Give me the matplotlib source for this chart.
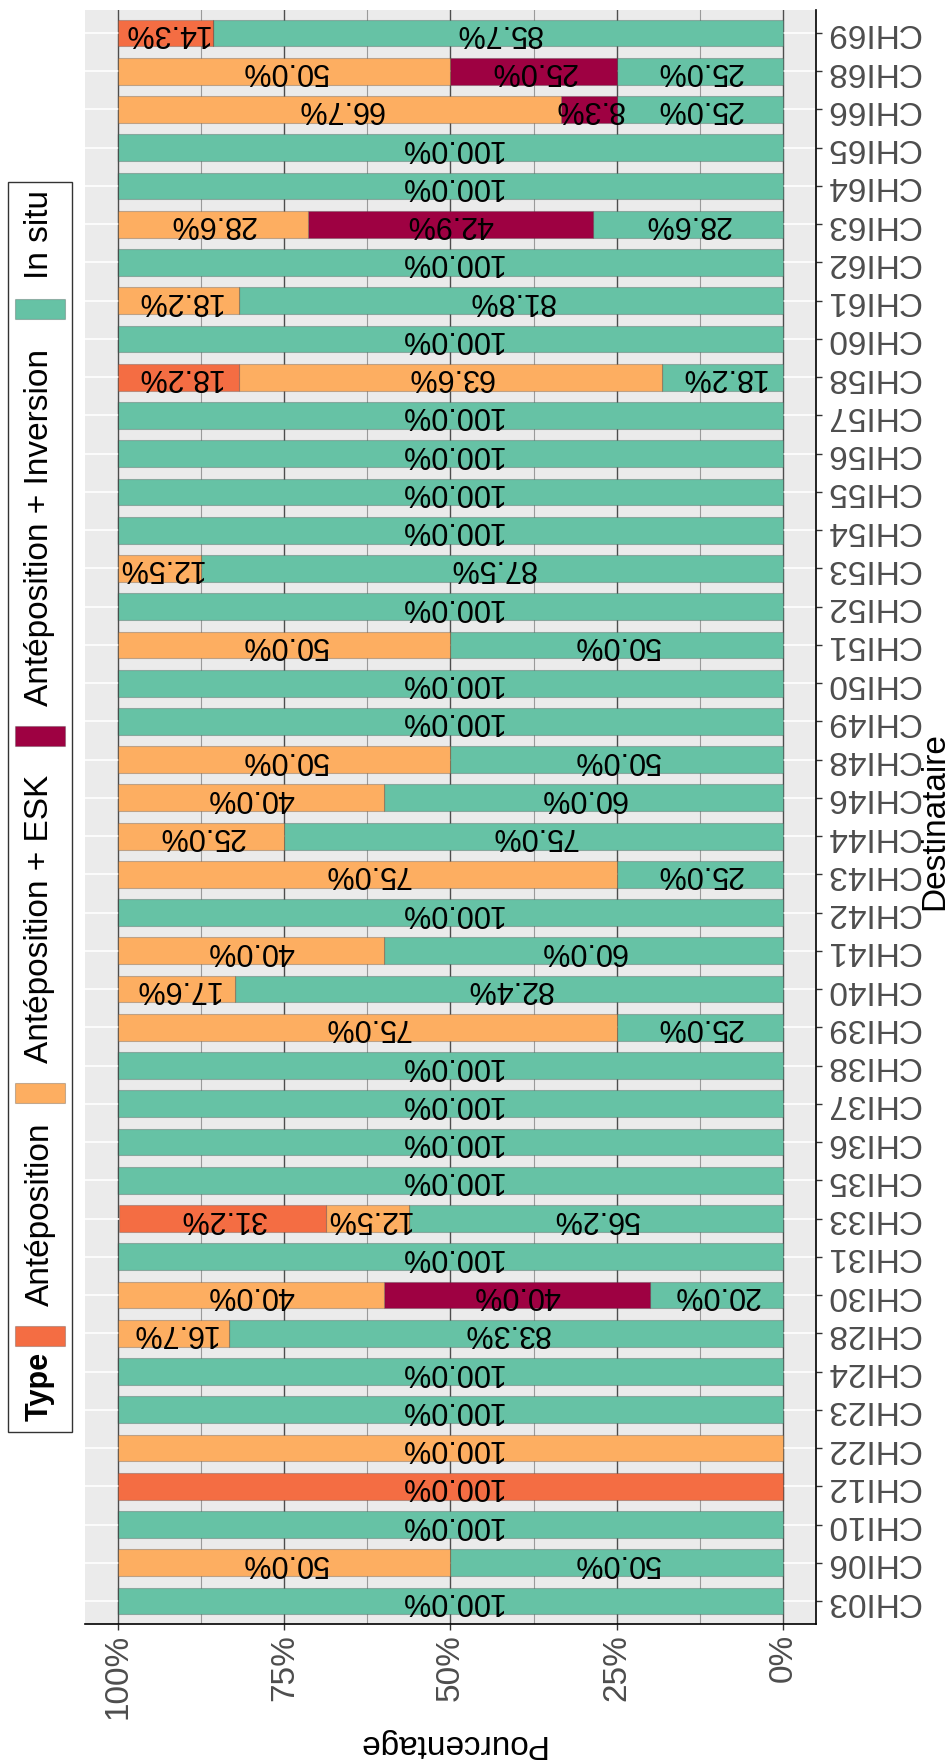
import matplotlib
matplotlib.use("Agg")
import matplotlib.pyplot as plt
from matplotlib.patches import Rectangle
from matplotlib.ticker import FixedLocator

plt.rcParams['font.family'] = ['Liberation Sans', 'DejaVu Sans']

# ---------------- data ----------------
categories = ["CHI03", "CHI06", "CHI10", "CHI12", "CHI22", "CHI23", "CHI24", "CHI28",
              "CHI30", "CHI31", "CHI33", "CHI35", "CHI36", "CHI37", "CHI38", "CHI39",
              "CHI40", "CHI41", "CHI42", "CHI43", "CHI44", "CHI46", "CHI48", "CHI49",
              "CHI50", "CHI51", "CHI52", "CHI53", "CHI54", "CHI55", "CHI56", "CHI57",
              "CHI58", "CHI60", "CHI61", "CHI62", "CHI63", "CHI64", "CHI65", "CHI66",
              "CHI68", "CHI69"]

in_situ = [100.0, 50.0, 100.0, 0.0, 0.0, 100.0, 100.0, 83.3,
           20.0, 100.0, 56.2, 100.0, 100.0, 100.0, 100.0, 25.0,
           82.4, 60.0, 100.0, 25.0, 75.0, 60.0, 50.0, 100.0,
           100.0, 50.0, 100.0, 87.5, 100.0, 100.0, 100.0, 100.0,
           18.2, 100.0, 81.8, 100.0, 28.6, 100.0, 100.0, 25.0,
           25.0, 85.7]
ant_inversion = [0, 0, 0, 0, 0, 0, 0, 0,
                 40.0, 0, 0, 0, 0, 0, 0, 0,
                 0, 0, 0, 0, 0, 0, 0, 0,
                 0, 0, 0, 0, 0, 0, 0, 0,
                 0, 0, 0, 0, 42.9, 0, 0, 8.3,
                 25.0, 0]
ant_esk = [0, 50.0, 0, 0, 100.0, 0, 0, 16.7,
           40.0, 0, 12.5, 0, 0, 0, 0, 75.0,
           17.6, 40.0, 0, 75.0, 25.0, 40.0, 50.0, 0,
           0, 50.0, 0, 12.5, 0, 0, 0, 0,
           63.6, 0, 18.2, 0, 28.6, 0, 0, 66.7,
           50.0, 0]
ant = [0, 0, 0, 100.0, 0, 0, 0, 0,
       0, 0, 31.2, 0, 0, 0, 0, 0,
       0, 0, 0, 0, 0, 0, 0, 0,
       0, 0, 0, 0, 0, 0, 0, 0,
       18.2, 0, 0, 0, 0, 0, 0, 0,
       0, 14.3]

series_names = ["In situ", "Antéposition + Inversion", "Antéposition + ESK", "Antéposition"]
series_values = [in_situ, ant_inversion, ant_esk, ant]
series_colors = ["#66C2A5", "#9E0142", "#FDAE61", "#F46D43"]
legend_order = ["Antéposition", "Antéposition + ESK", "Antéposition + Inversion", "In situ"]
pct_ticks = [0, 25, 50, 75, 100]
pct_labels = ["0%", "25%", "50%", "75%", "100%"]

# ---------------- figure ----------------
W, H = 953, 1763
fig = plt.figure(figsize=(W / 100, H / 100), dpi=100)
pl, pr, pt, pb = 85, 816, 10, 1624
ax = fig.add_axes([pl / W, 1 - pb / H, (pr - pl) / W, (pb - pt) / H])
ax.set_facecolor("#EBEBEB")
ax.set_axisbelow(True)

ypos = list(range(len(categories)))
left = [0.0] * len(categories)
for name, vals, col in zip(series_names, series_values, series_colors):
    ax.barh(ypos, vals, left=left, height=0.7, color=col,
            edgecolor=(0.25, 0.25, 0.25, 0.3), linewidth=0.8, zorder=2)
    for i, v in enumerate(vals):
        if v > 0:
            ax.text(left[i] + v / 2, i, f"{v:.1f}%", rotation=180,
                    ha="center", va="center", fontsize=22, color="black", zorder=3)
    left = [a + b for a, b in zip(left, vals)]

ax.set_xlim(105, -5)
ax.set_ylim(-0.6, len(categories) - 0.4)

ax.xaxis.set_major_locator(FixedLocator(pct_ticks))
ax.set_xticklabels(pct_labels, rotation=90, fontsize=24, color="#4D4D4D")
ax.xaxis.set_minor_locator(FixedLocator([12.5, 37.5, 62.5, 87.5]))
ax.yaxis.tick_right()
ax.set_yticks(ypos)
ax.set_yticklabels(categories, rotation=180, fontsize=24, color="#4D4D4D", va="center")

ax.tick_params(axis="x", which="major", length=4, width=1, color="#333333", pad=3)
ax.tick_params(axis="x", which="minor", length=0)
ax.tick_params(axis="y", which="major", length=4, width=1, color="#333333", pad=3)

ax.grid(axis="x", which="major", color="#4D4D4D", linewidth=1.0)
ax.grid(axis="x", which="minor", color="#9A9A9A", linewidth=0.8)
ax.grid(axis="y", which="major", color="white", linewidth=1.2)

for s in ["top", "left"]:
    ax.spines[s].set_visible(False)
for s in ["bottom", "right"]:
    ax.spines[s].set_color("black")
    ax.spines[s].set_linewidth(1.2)

ax.set_xlabel("Pourcentage", rotation=180, fontsize=24, color="black")
ax.xaxis.set_label_coords(0.5, -(1743 - pb) / (pb - pt))
ax.xaxis.label.set_va("center")
ax.set_ylabel("Destinataire", rotation=90, fontsize=24, color="black")
ax.yaxis.set_label_position("right")
ax.yaxis.set_label_coords((935 - pl) / (pr - pl), 0.5 - (821 - (pt + pb) / 2) / (pb - pt))
ax.yaxis.label.set_va("center")
ax.yaxis.label.set_ha("center")

# ---------------- legend (vertical, rotated) ----------------
def fy(y):
    return 1 - y / H

box_top, box_bot = 182, 1432
fig.patches.append(Rectangle((8 / W, fy(box_bot)), (72 - 8) / W, (box_bot - box_top) / H,
                             transform=fig.transFigure, facecolor="white",
                             edgecolor="#333333", linewidth=1.0, zorder=1))
fig.text(40 / W, fy(1421), "Type", rotation=90, ha="center", va="bottom",
         fontsize=22, fontweight="bold", color="black")
key_centers = {"Antéposition": 1336, "Antéposition + ESK": 1093,
               "Antéposition + Inversion": 736, "In situ": 309}
col_map = dict(zip(series_names, series_colors))
for name in legend_order:
    yc = key_centers[name]
    fig.patches.append(Rectangle((15 / W, fy(yc + 10)), 50 / W, 20 / H,
                                 transform=fig.transFigure, facecolor=col_map[name],
                                 edgecolor=(0.25, 0.25, 0.25, 0.3), linewidth=0.8, zorder=2))
    fig.text(40 / W, fy(yc - 30), name, rotation=90, ha="center", va="bottom",
             fontsize=24, color="black")

fig.savefig("out.png", dpi=100)
